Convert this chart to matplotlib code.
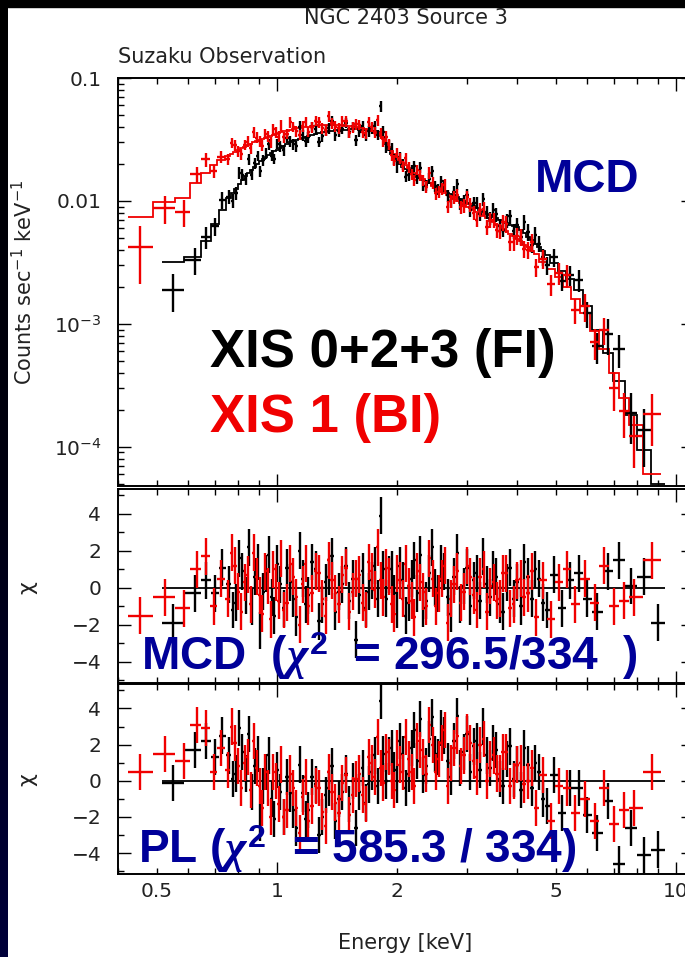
import matplotlib
matplotlib.use("Agg")
import matplotlib.pyplot as plt
import numpy as np
from matplotlib.colors import LinearSegmentedColormap
from matplotlib.patches import Rectangle
from matplotlib.ticker import FixedLocator, FuncFormatter, LogLocator, MultipleLocator

# XIS 0+2+3 (FI) spectrum: bin centres [keV], data and model [counts/s/keV]
E_FI = [0.55, 0.625, 0.665, 0.70, 0.73, 0.76, 0.775, 0.79, 0.805, 0.82,
        0.835, 0.85, 0.865, 0.88, 0.895, 0.91, 0.925, 0.94, 0.955, 0.97,
        0.985, 1.00, 1.02, 1.04, 1.06, 1.08, 1.10, 1.12, 1.14, 1.16,
        1.18, 1.20, 1.225, 1.25, 1.275, 1.30, 1.325, 1.35, 1.375, 1.40,
        1.43, 1.46, 1.49, 1.52, 1.55, 1.58, 1.61, 1.64, 1.67, 1.70,
        1.73, 1.76, 1.79, 1.82, 1.85, 1.88, 1.91, 1.94, 1.97, 2.00,
        2.035, 2.07, 2.105, 2.14, 2.175, 2.21, 2.25, 2.29, 2.33, 2.37,
        2.41, 2.45, 2.495, 2.54, 2.585, 2.63, 2.68, 2.73, 2.78, 2.83,
        2.885, 2.94, 2.995, 3.05, 3.11, 3.17, 3.23, 3.29, 3.355, 3.42,
        3.485, 3.55, 3.62, 3.69, 3.765, 3.84, 3.92, 4.00, 4.085, 4.17,
        4.26, 4.35, 4.445, 4.54, 4.64, 4.74, 4.95, 5.18, 5.43, 5.70,
        6.00, 6.35, 6.75, 7.20, 7.70, 8.30, 9.00]
MODEL_FI = [0.0032, 0.0035, 0.0047, 0.0065, 0.0085, 0.0105, 0.0116, 0.0126, 0.0137, 0.0148,
            0.0159, 0.0170, 0.0180, 0.0190, 0.0200, 0.0210, 0.0219, 0.0228, 0.0237, 0.0245,
            0.0254, 0.0262, 0.0272, 0.0282, 0.0291, 0.0300, 0.0308, 0.0315, 0.0322, 0.0328,
            0.0334, 0.0340, 0.0346, 0.0352, 0.0357, 0.0362, 0.0366, 0.0370, 0.0373, 0.0376,
            0.0378, 0.0380, 0.0381, 0.0382, 0.0382, 0.0382, 0.0381, 0.0380, 0.0378, 0.0376,
            0.0373, 0.0370, 0.0366, 0.0360, 0.0330, 0.0290, 0.0262, 0.0240, 0.0224, 0.0210,
            0.0200, 0.0190, 0.0182, 0.0175, 0.0169, 0.0163, 0.0158, 0.0153, 0.0148, 0.0144,
            0.0140, 0.0136, 0.0132, 0.0128, 0.0124, 0.0121, 0.0117, 0.0114, 0.0111, 0.0108,
            0.0104, 0.0100, 0.0097, 0.0094, 0.0091, 0.0088, 0.0085, 0.0082, 0.0079, 0.0077,
            0.0074, 0.0072, 0.0070, 0.0068, 0.0066, 0.0064, 0.0062, 0.0061, 0.0058, 0.0055,
            0.0051, 0.0048, 0.0045, 0.0042, 0.0039, 0.0036, 0.0031, 0.0027, 0.0023, 0.0019,
            0.0014, 0.0009, 0.00058, 0.00034, 0.00018, 0.000095, 0.000050]
DATA_FI = [0.0019, 0.0033, 0.0051, 0.0062, 0.0102, 0.0108, 0.0100, 0.0115, 0.0170, 0.0164,
           0.0152, 0.0218, 0.0164, 0.0202, 0.0233, 0.0174, 0.0215, 0.0246, 0.0289, 0.0234,
           0.0221, 0.0292, 0.0278, 0.0259, 0.0327, 0.0307, 0.0291, 0.0279, 0.0403, 0.0342,
           0.0306, 0.0329, 0.0402, 0.0383, 0.0303, 0.0338, 0.0377, 0.0389, 0.0449, 0.0341,
           0.0371, 0.0386, 0.0433, 0.0362, 0.0402, 0.0312, 0.0366, 0.0409, 0.0341, 0.0370,
           0.0389, 0.0409, 0.0345, 0.0590, 0.0367, 0.0274, 0.0282, 0.0267, 0.0217, 0.0188,
           0.0227, 0.0198, 0.0158, 0.0162, 0.0178, 0.0192, 0.0153, 0.0187, 0.0133, 0.0135,
           0.0152, 0.0174, 0.0132, 0.0124, 0.0145, 0.0134, 0.0111, 0.0099, 0.0119, 0.0137,
           0.0095, 0.0101, 0.0112, 0.0084, 0.0096, 0.0097, 0.0078, 0.0103, 0.0081, 0.0073,
           0.0085, 0.0078, 0.0063, 0.0058, 0.0069, 0.0075, 0.0057, 0.0064, 0.0051, 0.0068,
           0.0056, 0.0044, 0.0053, 0.0045, 0.0035, 0.0030, 0.0035, 0.00225, 0.00249, 0.00228,
           0.00122, 0.00066, 0.00083, 0.00062, 0.00019, 0.000136, 0.000020]
RELERR_FI = [0.34, 0.25, 0.20, 0.17, 0.15, 0.13, 0.13, 0.12, 0.12, 0.11,
             0.11, 0.10, 0.10, 0.10, 0.10, 0.10, 0.10, 0.10, 0.10, 0.10,
             0.10, 0.10, 0.10, 0.10, 0.10, 0.10, 0.10, 0.10, 0.10, 0.10,
             0.10, 0.10, 0.10, 0.10, 0.10, 0.10, 0.10, 0.10, 0.10, 0.10,
             0.10, 0.10, 0.10, 0.10, 0.10, 0.10, 0.10, 0.10, 0.10, 0.10,
             0.10, 0.10, 0.10, 0.10, 0.10, 0.10, 0.10, 0.10, 0.10, 0.10,
             0.10, 0.10, 0.10, 0.10, 0.10, 0.10, 0.10, 0.10, 0.10, 0.10,
             0.10, 0.10, 0.10, 0.10, 0.11, 0.11, 0.11, 0.11, 0.11, 0.11,
             0.11, 0.11, 0.12, 0.12, 0.12, 0.12, 0.12, 0.12, 0.12, 0.12,
             0.13, 0.13, 0.13, 0.13, 0.13, 0.13, 0.14, 0.14, 0.14, 0.14,
             0.15, 0.15, 0.15, 0.15, 0.16, 0.16, 0.17, 0.18, 0.19, 0.21,
             0.24, 0.28, 0.33, 0.30, 0.45, 0.50, 0.80]
CHI_MCD_FI = [-1.9, -0.3, 0.4, -0.3, 1.1, 0.2, -1.2, -0.8, 1.6, 0.9,
              -0.4, 2.2, -1.0, 0.6, 1.4, -2.3, -0.2, 0.8, 1.8, -0.5,
              -1.5, 1.3, 0.2, -1.1, 1.1, 0.3, -0.6, -1.6, 2.0, 0.5,
              -0.9, -0.4, 1.4, 1.0, -1.8, -0.9, 0.3, 0.6, 1.7, -1.3,
              -0.2, 0.2, 1.2, -0.7, 0.5, -2.8, -0.4, 0.9, -1.1, -0.2,
              0.4, 1.2, -0.6, 3.9, 1.0, -0.6, 0.7, 1.0, -0.3, -1.2,
              1.2, 0.4, -1.5, -0.8, 0.5, 1.5, -0.3, 1.8, -1.1, -0.7,
              0.8, 2.2, 0.0, -0.3, 1.3, 0.9, -0.5, -1.4, 0.6, 1.9,
              -0.9, 0.1, 1.1, -1.0, 0.4, 0.8, -0.7, 1.7, 0.2, -0.5,
              1.0, 0.6, -0.9, -1.3, 0.3, 1.1, -0.6, 0.3, -1.0, 1.4,
              0.6, -0.6, 1.0, 0.5, -0.8, -1.2, 0.7, -1.1, 0.4, 0.8,
              -0.6, -1.3, 0.9, 1.5, 0.1, 0.6, -1.9]
CHI_PL_FI = [-0.1, 1.7, 2.2, 1.3, 2.5, 1.4, 0.1, 0.4, 2.9, 1.6,
             0.4, 2.6, -0.6, 0.8, 1.5, -2.3, -0.3, 0.5, 1.4, -1.0,
             -2.1, 0.6, -0.6, -2.0, 0.2, -0.7, -1.6, -2.6, 0.9, -0.7,
             -2.1, -1.6, 0.2, -0.2, -3.0, -2.0, -0.8, -0.4, 0.8, -2.2,
             -1.0, -0.6, 0.4, -1.3, 0.0, -2.6, -0.6, 0.7, -1.2, -0.2,
             0.5, 1.4, -0.3, 4.4, 1.5, 0.0, 1.4, 1.8, 0.6, -0.2,
             2.2, 1.5, -0.4, 0.4, 1.8, 2.8, 1.1, 3.4, 0.3, 0.8,
             2.3, 3.5, 1.5, 1.3, 2.9, 2.5, 1.1, 0.2, 2.2, 3.6,
             0.7, 1.6, 2.6, 0.5, 1.9, 2.2, 0.6, 3.0, 1.4, 0.7,
             2.1, 1.7, 0.1, -0.3, 1.2, 1.9, 0.1, 0.9, -0.5, 1.8,
             0.9, -0.4, 1.0, 0.5, -1.0, -1.4, 0.3, -1.8, -0.4, -0.4,
             -1.9, -2.9, -1.1, -4.6, -2.6, -4.1, -3.8]

# XIS 1 (BI) spectrum
E_BI = [0.455, 0.525, 0.585, 0.63, 0.665, 0.695, 0.725, 0.755, 0.77, 0.785,
        0.80, 0.815, 0.83, 0.845, 0.86, 0.875, 0.89, 0.905, 0.92, 0.935,
        0.95, 0.965, 0.98, 0.995, 1.01, 1.025, 1.04, 1.06, 1.08, 1.10,
        1.12, 1.14, 1.16, 1.18, 1.20, 1.225, 1.25, 1.275, 1.30, 1.325,
        1.35, 1.375, 1.40, 1.43, 1.46, 1.49, 1.52, 1.55, 1.58, 1.61,
        1.64, 1.67, 1.70, 1.73, 1.76, 1.79, 1.82, 1.85, 1.88, 1.91,
        1.94, 1.97, 2.00, 2.035, 2.07, 2.105, 2.14, 2.175, 2.21, 2.25,
        2.29, 2.33, 2.37, 2.41, 2.455, 2.50, 2.545, 2.59, 2.635, 2.68,
        2.73, 2.78, 2.835, 2.89, 2.945, 3.00, 3.055, 3.11, 3.17, 3.23,
        3.295, 3.36, 3.425, 3.49, 3.555, 3.62, 3.69, 3.76, 3.84, 3.92,
        4.00, 4.08, 4.17, 4.26, 4.355, 4.45, 4.65, 4.86, 5.08, 5.32,
        5.60, 5.90, 6.25, 6.60, 7.00, 7.40, 7.85, 8.70]
MODEL_BI = [0.0074, 0.0098, 0.0105, 0.0140, 0.0170, 0.0195, 0.0215, 0.0232, 0.0241, 0.0250,
            0.0259, 0.0268, 0.0277, 0.0285, 0.0293, 0.0300, 0.0308, 0.0315, 0.0322, 0.0328,
            0.0334, 0.0340, 0.0346, 0.0352, 0.0357, 0.0362, 0.0368, 0.0373, 0.0379, 0.0384,
            0.0389, 0.0393, 0.0397, 0.0400, 0.0403, 0.0406, 0.0409, 0.0411, 0.0413, 0.0414,
            0.0415, 0.0415, 0.0415, 0.0414, 0.0412, 0.0410, 0.0407, 0.0404, 0.0400, 0.0396,
            0.0391, 0.0386, 0.0380, 0.0372, 0.0364, 0.0355, 0.0340, 0.0320, 0.0297, 0.0275,
            0.0256, 0.0240, 0.0227, 0.0215, 0.0204, 0.0195, 0.0186, 0.0178, 0.0170, 0.0163,
            0.0156, 0.0150, 0.0144, 0.0139, 0.0133, 0.0128, 0.0123, 0.0119, 0.0115, 0.0111,
            0.0107, 0.0104, 0.0100, 0.0097, 0.0093, 0.0090, 0.0087, 0.0084, 0.0081, 0.0078,
            0.0075, 0.0072, 0.0069, 0.0067, 0.0064, 0.0062, 0.0059, 0.0057, 0.0054, 0.0052,
            0.0049, 0.0047, 0.0044, 0.0042, 0.0039, 0.0037, 0.0032, 0.0028, 0.0024, 0.0020,
            0.0016, 0.00122, 0.00088, 0.00062, 0.00040, 0.00025, 0.00015, 0.000060]
DATA_BI = [0.0042, 0.0087, 0.0082, 0.0165, 0.0218, 0.0174, 0.0228, 0.0219, 0.0298, 0.0284,
           0.0254, 0.0240, 0.0286, 0.0304, 0.0269, 0.0362, 0.0328, 0.0305, 0.0282, 0.0353,
           0.0337, 0.0299, 0.0384, 0.0361, 0.0334, 0.0415, 0.0329, 0.0353, 0.0436, 0.0401,
           0.0370, 0.0345, 0.0405, 0.0440, 0.0366, 0.0398, 0.0449, 0.0435, 0.0390, 0.0375,
           0.0488, 0.0427, 0.0403, 0.0389, 0.0443, 0.0444, 0.0360, 0.0398, 0.0421, 0.0416,
           0.0362, 0.0356, 0.0442, 0.0401, 0.0360, 0.0455, 0.0354, 0.0308, 0.0334, 0.0291,
           0.0235, 0.0213, 0.0247, 0.0223, 0.0192, 0.0224, 0.0188, 0.0166, 0.0147, 0.0179,
           0.0161, 0.0147, 0.0130, 0.0169, 0.0141, 0.0115, 0.0119, 0.0126, 0.0134, 0.0090,
           0.0100, 0.0107, 0.0112, 0.0089, 0.0091, 0.0107, 0.0094, 0.0080, 0.0070, 0.0085,
           0.0086, 0.0061, 0.0070, 0.0070, 0.0058, 0.0057, 0.0067, 0.0065, 0.0046, 0.0046,
           0.0052, 0.0051, 0.0041, 0.0040, 0.0046, 0.0029, 0.0034, 0.0021, 0.0026, 0.0025,
           0.0013, 0.0014, 0.00071, 0.00089, 0.00030, 0.000195, 0.000122, 0.000185]
RELERR_BI = [0.50, 0.25, 0.25, 0.15, 0.13, 0.12, 0.11, 0.10, 0.10, 0.10,
             0.10, 0.10, 0.10, 0.10, 0.10, 0.10, 0.10, 0.10, 0.10, 0.10,
             0.10, 0.10, 0.10, 0.10, 0.10, 0.10, 0.10, 0.10, 0.10, 0.10,
             0.10, 0.10, 0.10, 0.10, 0.10, 0.10, 0.10, 0.10, 0.10, 0.10,
             0.10, 0.10, 0.10, 0.10, 0.10, 0.10, 0.10, 0.10, 0.10, 0.10,
             0.10, 0.10, 0.10, 0.10, 0.10, 0.10, 0.10, 0.10, 0.10, 0.10,
             0.10, 0.10, 0.10, 0.10, 0.10, 0.10, 0.10, 0.10, 0.10, 0.10,
             0.10, 0.10, 0.11, 0.11, 0.11, 0.11, 0.11, 0.11, 0.12, 0.12,
             0.12, 0.12, 0.12, 0.12, 0.13, 0.13, 0.13, 0.13, 0.13, 0.13,
             0.13, 0.14, 0.14, 0.14, 0.14, 0.14, 0.15, 0.15, 0.15, 0.15,
             0.16, 0.16, 0.16, 0.16, 0.17, 0.17, 0.18, 0.19, 0.20, 0.21,
             0.23, 0.26, 0.29, 0.25, 0.35, 0.40, 0.45, 0.45]
CHI_MCD_BI = [-1.5, -0.5, -1.1, 1.0, 1.7, -1.0, 0.5, -0.6, 1.9, 1.2,
              -0.2, -1.3, 0.3, 0.7, -0.9, 1.9, 0.6, -0.4, -1.4, 0.9,
              0.1, -1.7, 1.0, 0.3, -0.7, 1.6, -1.2, -0.8, 1.3, 0.6,
              -0.5, -2.0, 0.2, 1.3, -1.0, -0.3, 0.9, 0.8, -0.6, -1.5,
              1.5, 0.4, -0.3, -0.9, 0.7, 1.1, -1.3, -0.2, 0.5, 0.7,
              -0.8, -1.2, 1.4, 0.9, -0.1, 2.2, 0.4, -0.5, 1.1, 0.6,
              -0.9, -1.4, 0.8, 0.4, -0.6, 1.3, 0.1, -0.7, -1.6, 0.9,
              0.3, -0.2, -1.0, 1.6, 0.5, -1.0, -0.3, 0.5, 1.2, -1.9,
              -0.6, 0.2, 0.9, -0.8, -0.2, 1.2, 0.6, -0.4, -1.2, 0.6,
              1.0, -1.3, 0.1, 0.3, -0.7, -0.6, 0.8, 0.8, -1.1, -0.9,
              0.4, 0.5, -0.5, -0.3, 0.9, -1.6, 0.4, -1.7, 0.3, 1.0,
              -0.9, 0.5, -0.8, 1.2, -1.0, -0.7, -0.5, 1.5]
CHI_PL_BI = [0.5, 1.5, 1.1, 3.1, 2.9, 0.5, 1.8, 0.6, 3.0, 2.1,
             0.8, -0.4, 1.0, 1.3, -0.5, 2.2, 0.7, -0.3, -1.5, 0.5,
             -0.4, -2.0, 0.5, 0.0, -1.3, 0.9, -2.0, -1.6, 0.4, -0.4,
             -1.5, -2.9, -0.9, 0.2, -2.2, -1.4, -0.3, -0.4, -1.7, -2.5,
             0.5, -0.6, -1.2, -1.8, -0.1, 0.3, -1.9, -0.8, 0.1, 0.4,
             -0.8, -1.3, 1.3, 1.0, 0.2, 2.4, 0.7, -0.1, 1.6, 1.3,
             0.0, -0.5, 1.8, 0.9, 0.5, 2.4, 1.2, 0.5, -0.3, 2.2,
             1.7, 1.3, 0.4, 3.1, 2.0, 0.5, 1.2, 2.1, 2.8, -0.3,
             1.0, 1.8, 2.5, 0.8, 1.4, 2.7, 2.1, 1.1, 0.2, 2.0,
             2.3, 0.0, 1.2, 1.4, 0.4, 0.4, 1.6, 1.6, -0.3, 0.0,
             0.9, 1.0, -0.2, 0.0, 0.7, -1.5, 0.3, -2.2, -0.3, -0.4,
             -1.8, -1.0, -2.2, -0.4, -2.4, -1.6, -1.5, 0.5]

X_LABELS = {0.5: "0.5", 1: "1", 2: "2", 5: "5", 10: "10"}
Y_LABELS = {0.1: "0.1", 0.01: "0.01", 0.001: r"$10^{-3}$", 0.0001: r"$10^{-4}$"}

W, H = 685, 957
BLACK = "#000000"
RED = "#f00000"
NAVY = "#000099"
GREY = "#222222"

plt.rcParams["font.family"] = ["DejaVu Sans"]
plt.rcParams["mathtext.fontset"] = "dejavusans"
plt.rcParams["mathtext.rm"] = "Liberation Sans:bold"
plt.rcParams["mathtext.bf"] = "Liberation Sans:bold"
plt.rcParams["mathtext.it"] = "Liberation Serif:italic:bold"
plt.rcParams["mathtext.sf"] = "Liberation Sans:bold"


def px(x, y):
    return x / W, 1 - y / H


def bin_edges(centers):
    c = np.asarray(centers, dtype=float)
    mids = np.sqrt(c[1:] * c[:-1])
    return np.concatenate([[c[0] ** 2 / mids[0]], mids, [c[-1] ** 2 / mids[-1]]])


def style_axis(ax, bottom_labels):
    ax.set_xscale("log")
    ax.set_xlim(0.4, 11.0)
    ax.xaxis.set_major_locator(FixedLocator([1, 10]))
    ax.xaxis.set_minor_locator(FixedLocator([0.4, 0.5, 0.6, 0.7, 0.8, 0.9, 2, 3, 4, 5, 6, 7, 8, 9]))
    if bottom_labels:
        fmt = FuncFormatter(lambda v, p: X_LABELS.get(round(v, 2), ""))
        ax.xaxis.set_major_formatter(fmt)
        ax.xaxis.set_minor_formatter(fmt)
    else:
        ax.xaxis.set_major_formatter(FuncFormatter(lambda v, p: ""))
        ax.xaxis.set_minor_formatter(FuncFormatter(lambda v, p: ""))
    ax.tick_params(which="both", direction="in", top=True, right=True,
                   colors=BLACK, labelcolor=GREY, labelsize=14.5, width=1.0)
    ax.tick_params(which="major", length=9)
    ax.tick_params(which="minor", length=4.5)
    ax.tick_params(axis="x", which="both", pad=6)
    ax.tick_params(axis="y", which="both", pad=12)
    for s in ax.spines.values():
        s.set_linewidth(1.4)


def draw_spectrum(ax, e, d, rel, m, color):
    edges = bin_edges(e)
    e = np.asarray(e)
    d = np.asarray(d)
    xerr = [e - edges[:-1], edges[1:] - e]
    ax.errorbar(e, d, yerr=d * np.asarray(rel), xerr=xerr, fmt="none",
                ecolor=color, elinewidth=1.7, capsize=0)
    ax.stairs(m, edges, baseline=None, color=color, lw=1.3)


def draw_residuals(ax, e, chi, color):
    edges = bin_edges(e)
    e = np.asarray(e)
    xerr = [e - edges[:-1], edges[1:] - e]
    if color == BLACK:
        ax.hlines(0, edges[0], edges[-1], color=color, lw=1.3, zorder=1)
    ax.errorbar(e, chi, yerr=1.0, xerr=xerr, fmt="none",
                ecolor=color, elinewidth=1.7, capsize=0, zorder=2)


fig = plt.figure(figsize=(W / 100, H / 100), dpi=100)
fig.patch.set_facecolor("white")

left = 118 / W
width = (692.5 - 118) / W
ax_top = fig.add_axes([left, 1 - 486 / H, width, (486 - 78) / H])
ax_mid = fig.add_axes([left, 1 - 683 / H, width, (683 - 489) / H])
ax_bot = fig.add_axes([left, 1 - 874 / H, width, (874 - 684) / H])

# spectrum panel
draw_spectrum(ax_top, E_FI, DATA_FI, RELERR_FI, MODEL_FI, BLACK)
draw_spectrum(ax_top, E_BI, DATA_BI, RELERR_BI, MODEL_BI, RED)
style_axis(ax_top, False)
ax_top.set_yscale("log")
ax_top.set_ylim(4.8e-5, 0.1)
ax_top.yaxis.set_major_locator(FixedLocator([1e-4, 1e-3, 1e-2, 1e-1]))
ax_top.yaxis.set_minor_locator(LogLocator(base=10, subs=range(2, 10)))
ax_top.yaxis.set_major_formatter(FuncFormatter(lambda v, p: Y_LABELS.get(float(f"{v:.0e}"), "")))
ax_top.yaxis.set_minor_formatter(FuncFormatter(lambda v, p: ""))

# residual panels
for ax, chi_fi, chi_bi in [(ax_mid, CHI_MCD_FI, CHI_MCD_BI), (ax_bot, CHI_PL_FI, CHI_PL_BI)]:
    draw_residuals(ax, E_FI, chi_fi, BLACK)
    draw_residuals(ax, E_BI, chi_bi, RED)
    style_axis(ax, ax is ax_bot)
    ax.set_ylim(-5.15, 5.35)
    ax.yaxis.set_major_locator(MultipleLocator(2))
    ax.yaxis.set_minor_locator(MultipleLocator(1))

# axis texts
fig.text(*px(406, 24), "NGC 2403 Source 3", ha="center", va="baseline", fontsize=15, color=GREY)
fig.text(*px(118, 63), "Suzaku Observation", ha="left", va="baseline", fontsize=15, color=GREY)
fig.text(*px(24, 282), r"Counts sec$^{-1}$ keV$^{-1}$", rotation=90, ha="center", va="center",
         fontsize=15, color=GREY)
fig.text(*px(27, 588), "χ", rotation=90, ha="center", va="center", fontsize=16, color=GREY)
fig.text(*px(27, 780), "χ", rotation=90, ha="center", va="center", fontsize=16, color=GREY)
fig.text(*px(405, 943), "Energy [keV]", ha="center", va="center", fontsize=15, color=GREY)

# slide annotations
big = dict(family="Liberation Sans", weight="bold", va="baseline", ha="left")
fig.text(*px(535, 192), "MCD", fontsize=33, color=NAVY, **big)
fig.text(*px(210, 367), "XIS 0+2+3 (FI)", fontsize=38, color=BLACK, **big)
fig.text(*px(210, 432), "XIS 1 (BI)", fontsize=38, color=RED, **big)
fig.text(*px(141, 670), r"MCD  ($\chi^{\mathbf{2}}$  = 296.5/334  )", fontsize=33, color=NAVY,
         math_fontfamily="custom", **big)
fig.text(*px(138, 863), r"PL ($\chi^{\mathbf{2}}$  = 585.3 / 334)", fontsize=33, color=NAVY,
         math_fontfamily="custom", **big)

# slide background edges
fig.patches.append(Rectangle((0, 1 - 7 / H), 1, 7 / H, transform=fig.transFigure,
                             color="black", zorder=10))
strip = fig.add_axes([0, 0, 8 / W, 1])
strip.imshow(np.linspace(0, 1, 200).reshape(-1, 1), aspect="auto",
             cmap=LinearSegmentedColormap.from_list("slide", ["#000000", "#000010", "#00003a"]))
strip.set_axis_off()

fig.savefig("out.png", dpi=100)
